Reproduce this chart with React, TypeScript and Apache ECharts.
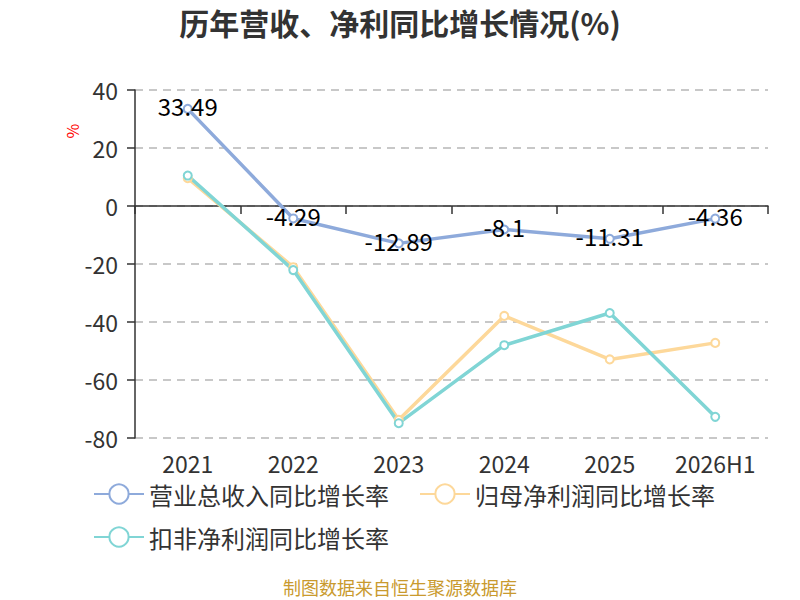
import React, { useEffect, useRef } from "react";
import * as echarts from "echarts";

const categories = ["2021", "2022", "2023", "2024", "2025", "2026H1"];
const revenueGrowth = [33.49, -4.29, -12.89, -8.1, -11.31, -4.36];
const netProfitGrowth = [9.6, -21.1, -73.7, -37.9, -52.9, -47.2];
const deductedProfitGrowth = [10.5, -22.1, -74.9, -48.0, -36.9, -72.7];
const seriesNames = ["营业总收入同比增长率", "归母净利润同比增长率", "扣非净利润同比增长率"];
const colors = ["#8eaadb", "#fdd89a", "#80d5d5"];
const FONT = "'Noto Sans CJK SC', 'Noto Sans', sans-serif";

export default function App() {
  const ref = useRef<HTMLDivElement>(null);
  useEffect(() => {
    if (!ref.current) return;
    const chart = echarts.init(ref.current, undefined, { renderer: "svg" });
    const datas = [revenueGrowth, netProfitGrowth, deductedProfitGrowth];
    const legendCommon = {
      left: 88,
      itemWidth: 50,
      itemHeight: 24,
      itemGap: 30,
      textStyle: { fontSize: 24, color: "#333", fontFamily: FONT },
    };
    chart.setOption({
      animation: false,
      color: colors,
      textStyle: { fontFamily: FONT },
      title: {
        text: "历年营收、净利同比增长情况(%)",
        left: "center",
        top: 2,
        textStyle: { fontSize: 30, fontWeight: "bold", color: "#333", fontFamily: FONT },
      },
      grid: { left: 135, right: 32, top: 90, bottom: 162, containLabel: false },
      legend: [
        { ...legendCommon, data: [seriesNames[0], seriesNames[1]], top: 477 },
        { ...legendCommon, data: [seriesNames[2]], top: 520 },
      ],
      xAxis: {
        type: "category",
        data: categories,
        axisLine: { onZero: true, lineStyle: { color: "#333", width: 1.5 } },
        axisTick: { show: true, length: 8, lineStyle: { color: "#333", width: 1.5 } },
        axisLabel: { fontSize: 23, color: "#333", margin: 13, fontFamily: FONT },
        position: "bottom",
      },
      yAxis: {
        type: "value",
        min: -80,
        max: 40,
        interval: 20,
        axisLine: { show: true, lineStyle: { color: "#333", width: 1.5 } },
        axisTick: { show: true, length: 8, lineStyle: { color: "#333", width: 1.5 } },
        axisLabel: { fontSize: 23, color: "#333", margin: 17, fontFamily: FONT },
        splitLine: { lineStyle: { type: [8, 6], color: "#c8c8c8", width: 2 } },
      },
      series: datas.map((d, i) => ({
        name: seriesNames[i],
        type: "line",
        data: d,
        symbol: "emptyCircle",
        symbolSize: 8,
        lineStyle: { width: 3.5 },
        z: i === 0 ? 3 : 2,
        label: i === 0
          ? { show: true, position: "inside", offset: [0, -3], fontSize: 24, color: "#000", fontFamily: FONT }
          : { show: false },
      })),
      graphic: [
        {
          type: "text",
          left: "center",
          top: 578,
          style: { text: "制图数据来自恒生聚源数据库", fontSize: 18, fill: "#c99a2e", fontFamily: FONT },
        },
        {
          type: "text",
          x: 72,
          y: 131,
          rotation: Math.PI / 2,
          style: { text: "%", fontSize: 16, fill: "red", align: "center", verticalAlign: "middle", fontFamily: FONT },
        },
      ],
    });
    return () => chart.dispose();
  }, []);
  return (
    <div
      ref={ref}
      style={{ position: "absolute", left: 0, top: 0, width: 800, height: 600 }}
    />
  );
}
